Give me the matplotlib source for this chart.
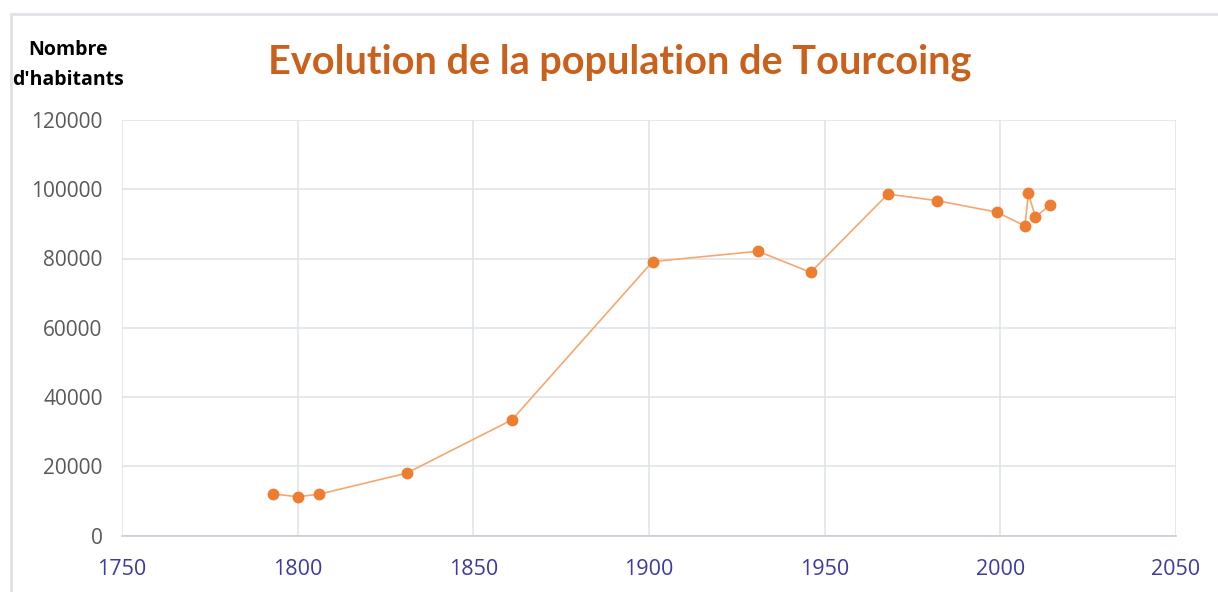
import matplotlib.pyplot as plt
from matplotlib.lines import Line2D

# population of Tourcoing
years = [1793, 1800, 1806, 1831, 1861, 1901, 1931, 1946, 1968, 1982,
         1999, 2007, 2008, 2010, 2014]
population = [12000, 11200, 11900, 18000, 33400, 79100, 82100, 76000, 98600,
              96700, 93400, 89400, 98800, 91900, 95400]
x_ticks = [1750, 1800, 1850, 1900, 1950, 2000, 2050]
y_ticks = [0, 20000, 40000, 60000, 80000, 100000, 120000]

fig = plt.figure(figsize=(12.18, 5.92), dpi=100)
ax = fig.add_axes([122 / 1218, 1 - 535.5 / 592, (1176 - 122) / 1218, (535.5 - 120) / 592])

ax.plot(years, population, color="#F5A770", lw=1.2, zorder=3)
ax.plot(years, population, ls="none", marker="o", ms=7.5,
        color="#ED7D31", zorder=4)

ax.set_xlim(1750, 2050)
ax.set_ylim(0, 120000)
ax.set_xticks(x_ticks)
ax.set_yticks(y_ticks)
ax.set_xticklabels([str(v) for v in x_ticks], fontsize=15.5, family="Open Sans",
                   color="#3C3CA0")
ax.set_yticklabels([str(v) for v in y_ticks], fontsize=15, family="Open Sans",
                   color="#595959")
ax.tick_params(axis="both", length=0)
ax.tick_params(axis="y", pad=14)
ax.tick_params(axis="x", pad=17)
ax.grid(True, color="#DEE3EA", lw=1.1, zorder=0)
for s in ["top", "right", "left"]:
    ax.spines[s].set_visible(False)
ax.spines["bottom"].set_color("#C8CDD5")
ax.spines["bottom"].set_linewidth(1.2)

fig.text(620 / 1218, 1 - 62 / 592, "Evolution de la population de Tourcoing",
         ha="center", va="center", fontsize=28.5, fontweight="bold",
         family="Lato", color="#C9601B")
fig.text(68 / 1218, 1 - 50 / 592, "Nombre", ha="center", va="center",
         fontsize=14, fontweight="bold", family="Open Sans", color="black")
fig.text(68 / 1218, 1 - 80 / 592, "d'habitants", ha="center", va="center",
         fontsize=14, fontweight="bold", family="Open Sans", color="black")

# light frame around the chart
fig.add_artist(Line2D([11 / 1218, 1], [1 - 14 / 592, 1 - 14 / 592],
                      color="#DEE2E8", lw=2, transform=fig.transFigure))
fig.add_artist(Line2D([11 / 1218, 11 / 1218], [0, 1 - 14 / 592],
                      color="#DEE2E8", lw=2, transform=fig.transFigure))

fig.savefig("out.png", dpi=100, facecolor="white")
